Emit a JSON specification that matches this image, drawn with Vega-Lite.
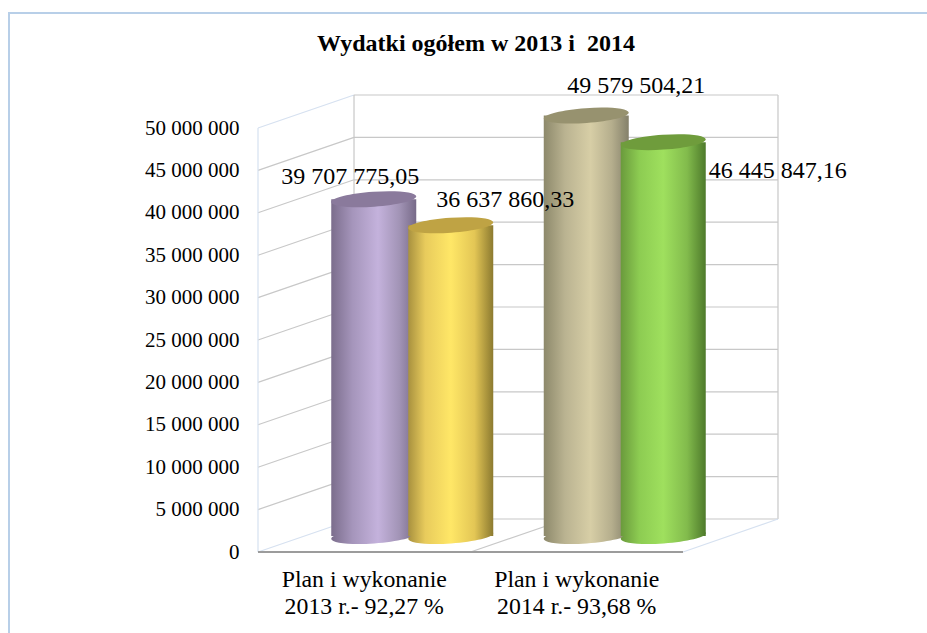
{"$schema":"https://vega.github.io/schema/vega-lite/v6.json","width":930,"height":630,"autosize":{"type":"none"},"padding":{"left":9,"top":13,"right":0,"bottom":0},"background":"white","config":{"view":{"stroke":"#b8cfe8","strokeWidth":2},"font":"Liberation Serif"},"title":{"text":"Wydatki ogółem w 2013 i \u00a02014","font":"Liberation Serif","fontSize":24,"fontWeight":"bold","color":"black","anchor":"middle","offset":-43,"dx":2},"datasets":{"bars":[{"bar":"P13","kat":"Plan i wykonanie|2013 r.- 92,27 %","wartosc":39707775.05,"etykieta":"39 707 775,05"},{"bar":"W13","kat":"Plan i wykonanie|2013 r.- 92,27 %","wartosc":36637860.33,"etykieta":"36 637 860,33"},{"bar":"P14","kat":"Plan i wykonanie|2014 r.- 93,68 %","wartosc":49579504.21,"etykieta":"49 579 504,21"},{"bar":"W14","kat":"Plan i wykonanie|2014 r.- 93,68 %","wartosc":46445847.16,"etykieta":"46 445 847,16"}],"grid":[{"line":"s0","kind":"edge","pos":0,"val":0},{"line":"s0","kind":"edge","pos":0.4518,"val":3891500},{"line":"s5","kind":"grid","pos":0,"val":5000000},{"line":"s5","kind":"grid","pos":0.4518,"val":8891500},{"line":"s10","kind":"grid","pos":0,"val":10000000},{"line":"s10","kind":"grid","pos":0.4518,"val":13891500},{"line":"s15","kind":"grid","pos":0,"val":15000000},{"line":"s15","kind":"grid","pos":0.4518,"val":18891500},{"line":"s20","kind":"grid","pos":0,"val":20000000},{"line":"s20","kind":"grid","pos":0.4518,"val":23891500},{"line":"s25","kind":"grid","pos":0,"val":25000000},{"line":"s25","kind":"grid","pos":0.4518,"val":28891500},{"line":"s30","kind":"grid","pos":0,"val":30000000},{"line":"s30","kind":"grid","pos":0.4518,"val":33891500},{"line":"s35","kind":"grid","pos":0,"val":35000000},{"line":"s35","kind":"grid","pos":0.4518,"val":38891500},{"line":"s40","kind":"grid","pos":0,"val":40000000},{"line":"s40","kind":"grid","pos":0.4518,"val":43891500},{"line":"s45","kind":"grid","pos":0,"val":45000000},{"line":"s45","kind":"grid","pos":0.4518,"val":48891500},{"line":"s50","kind":"edge","pos":0,"val":50000000},{"line":"s50","kind":"edge","pos":0.4518,"val":53891500},{"line":"b0","kind":"grid","pos":0.4518,"val":3891500},{"line":"b0","kind":"grid","pos":2.447,"val":3891500},{"line":"b5","kind":"grid","pos":0.4518,"val":8891500},{"line":"b5","kind":"grid","pos":2.447,"val":8891500},{"line":"b10","kind":"grid","pos":0.4518,"val":13891500},{"line":"b10","kind":"grid","pos":2.447,"val":13891500},{"line":"b15","kind":"grid","pos":0.4518,"val":18891500},{"line":"b15","kind":"grid","pos":2.447,"val":18891500},{"line":"b20","kind":"grid","pos":0.4518,"val":23891500},{"line":"b20","kind":"grid","pos":2.447,"val":23891500},{"line":"b25","kind":"grid","pos":0.4518,"val":28891500},{"line":"b25","kind":"grid","pos":2.447,"val":28891500},{"line":"b30","kind":"grid","pos":0.4518,"val":33891500},{"line":"b30","kind":"grid","pos":2.447,"val":33891500},{"line":"b35","kind":"grid","pos":0.4518,"val":38891500},{"line":"b35","kind":"grid","pos":2.447,"val":38891500},{"line":"b40","kind":"grid","pos":0.4518,"val":43891500},{"line":"b40","kind":"grid","pos":2.447,"val":43891500},{"line":"b45","kind":"grid","pos":0.4518,"val":48891500},{"line":"b45","kind":"grid","pos":2.447,"val":48891500},{"line":"b50","kind":"grid","pos":0.4518,"val":53891500},{"line":"b50","kind":"grid","pos":2.447,"val":53891500},{"line":"vf","kind":"edge","pos":0,"val":0},{"line":"vf","kind":"edge","pos":0,"val":50000000},{"line":"vl","kind":"grid","pos":0.4518,"val":3891500},{"line":"vl","kind":"grid","pos":0.4518,"val":53891500},{"line":"vr","kind":"grid","pos":2.447,"val":3891500},{"line":"vr","kind":"grid","pos":2.447,"val":53891500},{"line":"fm","kind":"grid","pos":1,"val":0},{"line":"fm","kind":"grid","pos":1.4518,"val":3891500},{"line":"fr","kind":"edge","pos":2,"val":0},{"line":"fr","kind":"edge","pos":2.447,"val":3891500},{"line":"ax","kind":"axis","pos":0,"val":0},{"line":"ax","kind":"axis","pos":2,"val":0}]},"resolve":{"scale":{"x":"independent"}},"layer":[{"data":{"name":"grid"},"mark":{"type":"line","interpolate":"linear"},"encoding":{"x":{"field":"pos","type":"quantitative","scale":{"domain":[-1.1718,3.2047],"nice":false,"zero":false},"axis":null},"y":{"field":"val","type":"quantitative","scale":{"domain":[-10731132,63561321],"nice":false,"zero":false},"axis":{"orient":"left","offset":-249,"values":[0,5000000,10000000,15000000,20000000,25000000,30000000,35000000,40000000,45000000,50000000],"labelExpr":"replace(format(datum.value,','),/,/g,' ')","domain":false,"ticks":false,"grid":false,"labelPadding":19,"labelFont":"Liberation Serif","labelFontSize":21,"labelColor":"black","title":null}},"detail":{"field":"line"},"color":{"field":"kind","type":"nominal","scale":{"domain":["grid","edge","axis"],"range":["#c8c8c8","#d6e1f0","#9c9c9c"]},"legend":null},"strokeWidth":{"field":"kind","type":"nominal","scale":{"type":"ordinal","domain":["grid","edge","axis"],"range":[1.2,1.2,2]},"legend":null}}},{"data":{"name":"bars"},"encoding":{"x":{"field":"kat","type":"nominal","scale":{"domain":["Plan i wykonanie|2013 r.- 92,27 %","Plan i wykonanie|2014 r.- 93,68 %"],"range":[297,722],"paddingInner":0,"paddingOuter":0},"axis":{"orient":"bottom","offset":-91,"labelExpr":"split(datum.label,'|')","labelAngle":0,"labelOffset":-48,"domain":false,"ticks":false,"grid":false,"labelPadding":15,"labelFont":"Liberation Serif","labelFontSize":23.8,"labelLineHeight":27,"labelColor":"black","title":null,"labelLimit":400}},"y":{"field":"wartosc","type":"quantitative"}},"layer":[{"transform":[{"filter":"datum.bar==='P13'"}],"layer":[{"mark":{"type":"bar","width":85,"xOffset":-38.5,"yOffset":-16,"y2Offset":-16,"fill":{"gradient":"linear","x1":0,"x2":1,"y1":0,"y2":0,"stops":[{"offset":0,"color":"#7b6d8c"},{"offset":0.25,"color":"#a595bb"},{"offset":0.55,"color":"#c4b2dc"},{"offset":0.8,"color":"#a294b6"},{"offset":1,"color":"#776a88"}]}},"encoding":{"y":{"field":"wartosc","type":"quantitative","stack":null},"y2":{"datum":0}}},{"mark":{"type":"point","filled":true,"opacity":1,"size":7225,"strokeWidth":0,"shape":"M-1,0.07 A1,0.175,-4,1,1,1,-0.07 A1,0.175,-4,1,1,-1,0.07 Z","xOffset":-38.5,"yOffset":-16,"fill":{"gradient":"linear","x1":0,"x2":1,"y1":0,"y2":0,"stops":[{"offset":0,"color":"#7b6d8c"},{"offset":0.25,"color":"#a595bb"},{"offset":0.55,"color":"#c4b2dc"},{"offset":0.8,"color":"#a294b6"},{"offset":1,"color":"#776a88"}]}},"encoding":{"y":{"datum":0}}},{"mark":{"type":"point","filled":true,"opacity":1,"size":7225,"strokeWidth":0,"fill":"#8a7a9c","shape":"M-1,0.07 A1,0.175,-4,1,1,1,-0.07 A1,0.175,-4,1,1,-1,0.07 Z","xOffset":-38.5,"yOffset":-16}}]},{"transform":[{"filter":"datum.bar==='W13'"}],"layer":[{"mark":{"type":"bar","width":85,"xOffset":38.5,"yOffset":-16,"y2Offset":-16,"fill":{"gradient":"linear","x1":0,"x2":1,"y1":0,"y2":0,"stops":[{"offset":0,"color":"#a8913f"},{"offset":0.2,"color":"#e8cb5c"},{"offset":0.5,"color":"#ffe767"},{"offset":0.78,"color":"#e3c655"},{"offset":1,"color":"#8c7a30"}]}},"encoding":{"y":{"field":"wartosc","type":"quantitative","stack":null},"y2":{"datum":0}}},{"mark":{"type":"point","filled":true,"opacity":1,"size":7225,"strokeWidth":0,"shape":"M-1,0.07 A1,0.175,-4,1,1,1,-0.07 A1,0.175,-4,1,1,-1,0.07 Z","xOffset":38.5,"yOffset":-16,"fill":{"gradient":"linear","x1":0,"x2":1,"y1":0,"y2":0,"stops":[{"offset":0,"color":"#a8913f"},{"offset":0.2,"color":"#e8cb5c"},{"offset":0.5,"color":"#ffe767"},{"offset":0.78,"color":"#e3c655"},{"offset":1,"color":"#8c7a30"}]}},"encoding":{"y":{"datum":0}}},{"mark":{"type":"point","filled":true,"opacity":1,"size":7225,"strokeWidth":0,"fill":"#bfa344","shape":"M-1,0.07 A1,0.175,-4,1,1,1,-0.07 A1,0.175,-4,1,1,-1,0.07 Z","xOffset":38.5,"yOffset":-16}}]},{"transform":[{"filter":"datum.bar==='P14'"}],"layer":[{"mark":{"type":"bar","width":85,"xOffset":-38.5,"yOffset":-16,"y2Offset":-16,"fill":{"gradient":"linear","x1":0,"x2":1,"y1":0,"y2":0,"stops":[{"offset":0,"color":"#8d896b"},{"offset":0.25,"color":"#bab391"},{"offset":0.55,"color":"#d7cea6"},{"offset":0.8,"color":"#b5ae8d"},{"offset":1,"color":"#84806a"}]}},"encoding":{"y":{"field":"wartosc","type":"quantitative","stack":null},"y2":{"datum":0}}},{"mark":{"type":"point","filled":true,"opacity":1,"size":7225,"strokeWidth":0,"shape":"M-1,0.07 A1,0.175,-4,1,1,1,-0.07 A1,0.175,-4,1,1,-1,0.07 Z","xOffset":-38.5,"yOffset":-16,"fill":{"gradient":"linear","x1":0,"x2":1,"y1":0,"y2":0,"stops":[{"offset":0,"color":"#8d896b"},{"offset":0.25,"color":"#bab391"},{"offset":0.55,"color":"#d7cea6"},{"offset":0.8,"color":"#b5ae8d"},{"offset":1,"color":"#84806a"}]}},"encoding":{"y":{"datum":0}}},{"mark":{"type":"point","filled":true,"opacity":1,"size":7225,"strokeWidth":0,"fill":"#97926f","shape":"M-1,0.07 A1,0.175,-4,1,1,1,-0.07 A1,0.175,-4,1,1,-1,0.07 Z","xOffset":-38.5,"yOffset":-16}}]},{"transform":[{"filter":"datum.bar==='W14'"}],"layer":[{"mark":{"type":"bar","width":85,"xOffset":38.5,"yOffset":-16,"y2Offset":-16,"fill":{"gradient":"linear","x1":0,"x2":1,"y1":0,"y2":0,"stops":[{"offset":0,"color":"#6a9a3c"},{"offset":0.22,"color":"#8dcc52"},{"offset":0.5,"color":"#9fe05e"},{"offset":0.78,"color":"#82bb4c"},{"offset":1,"color":"#4e7a2b"}]}},"encoding":{"y":{"field":"wartosc","type":"quantitative","stack":null},"y2":{"datum":0}}},{"mark":{"type":"point","filled":true,"opacity":1,"size":7225,"strokeWidth":0,"shape":"M-1,0.07 A1,0.175,-4,1,1,1,-0.07 A1,0.175,-4,1,1,-1,0.07 Z","xOffset":38.5,"yOffset":-16,"fill":{"gradient":"linear","x1":0,"x2":1,"y1":0,"y2":0,"stops":[{"offset":0,"color":"#6a9a3c"},{"offset":0.22,"color":"#8dcc52"},{"offset":0.5,"color":"#9fe05e"},{"offset":0.78,"color":"#82bb4c"},{"offset":1,"color":"#4e7a2b"}]}},"encoding":{"y":{"datum":0}}},{"mark":{"type":"point","filled":true,"opacity":1,"size":7225,"strokeWidth":0,"fill":"#6f9c3c","shape":"M-1,0.07 A1,0.175,-4,1,1,1,-0.07 A1,0.175,-4,1,1,-1,0.07 Z","xOffset":38.5,"yOffset":-16}}]},{"transform":[{"filter":"datum.bar==='P13'"}],"mark":{"type":"text","font":"Liberation Serif","fontSize":24,"color":"black","dx":-62,"dy":-38},"encoding":{"text":{"field":"etykieta"}}},{"transform":[{"filter":"datum.bar==='W13'"}],"mark":{"type":"text","font":"Liberation Serif","fontSize":24,"color":"black","dx":93,"dy":-41},"encoding":{"text":{"field":"etykieta"}}},{"transform":[{"filter":"datum.bar==='P14'"}],"mark":{"type":"text","font":"Liberation Serif","fontSize":24,"color":"black","dx":11.5,"dy":-46},"encoding":{"text":{"field":"etykieta"}}},{"transform":[{"filter":"datum.bar==='W14'"}],"mark":{"type":"text","font":"Liberation Serif","fontSize":24,"color":"black","dx":153,"dy":13},"encoding":{"text":{"field":"etykieta"}}}]}]}
